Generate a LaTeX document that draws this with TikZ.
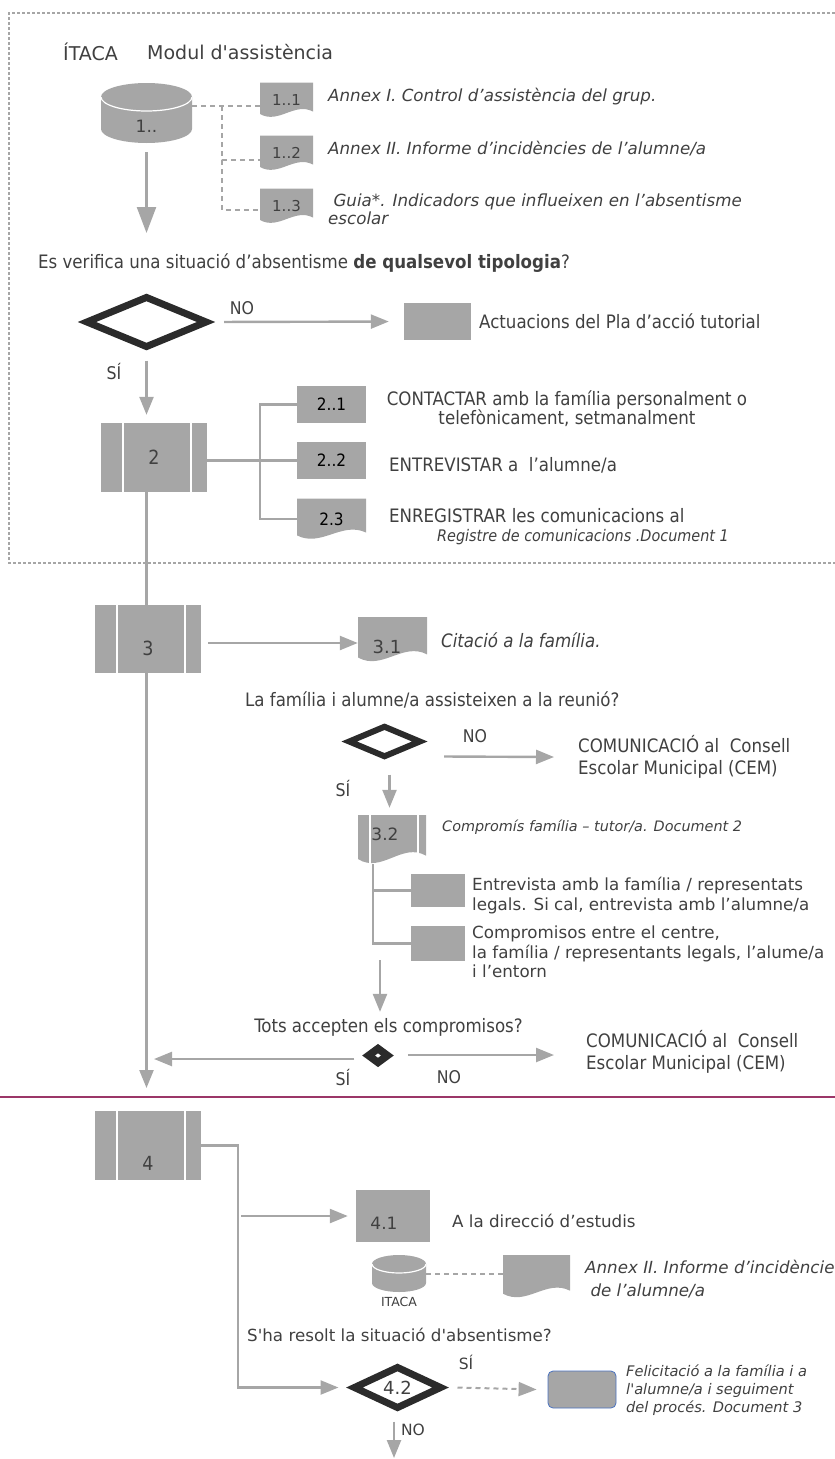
\documentclass[tikz,border=0pt]{standalone}
\usepackage{fontspec}
\setmainfont{DejaVu Sans}[Ligatures=TeXOff]
\newfontfamily\cond{DejaVu Sans Condensed}[Ligatures=TeXOff]
\usetikzlibrary{positioning,arrows.meta,shapes.geometric,calc}
\definecolor{boxgray}{HTML}{A6A6A6}
\definecolor{txtgray}{HTML}{404040}
\definecolor{darkline}{HTML}{2B2B2B}
\definecolor{sepline}{HTML}{9B3668}
\definecolor{edgeblue}{HTML}{4A72C0}
\newcommand\fs[2]{\fontsize{#1}{#2}\selectfont}
% gray page with a wavy lower edge
\newcommand\docwave{%
	\fill[boxgray] let \p1=(path picture bounding box.north west),
		\p2=(path picture bounding box.south east) in
		(\x1,\y1) -- (\x2,\y1) -- (\x2,{\y2+0.17*(\y1-\y2)})
		.. controls ({\x1+0.65*(\x2-\x1)},{\y2+0.45*(\y1-\y2)})
		and ({\x1+0.35*(\x2-\x1)},{\y2-0.2*(\y1-\y2)}) .. (\x1,{\y2+0.1*(\y1-\y2)}) -- cycle;}
% two white bars of a predefined process
\newcommand\proclines[2]{%
	\draw[white, line width=1.6pt]
		([xshift=#1]path picture bounding box.north west) -- ([xshift=#1]path picture bounding box.south west)
		([xshift=-#2]path picture bounding box.north east) -- ([xshift=-#2]path picture bounding box.south east);}
% database drum
\newcommand\dbbody[1]{%
	\fill[boxgray] let \p1=(path picture bounding box.north west),
		\p2=(path picture bounding box.south east) in
		(\x1,\y1-#1) -- (\x1,\y2+#1)
		arc[start angle=180, end angle=360, x radius={(\x2-\x1)/2}, y radius=#1]
		-- (\x2,\y1-#1)
		arc[start angle=0, end angle=180, x radius={(\x2-\x1)/2}, y radius=#1] -- cycle;
	\draw[white, line width=1.2pt] let \p1=(path picture bounding box.north west),
		\p2=(path picture bounding box.south east) in
		(\x1,\y1-#1) arc[start angle=180, end angle=360, x radius={(\x2-\x1)/2}, y radius=#1];}
\tikzset{
	>={Triangle[length=18pt,width=14pt]}
}

\begin{document}
\begin{tikzpicture}[
x = 1pt, y = -1pt,
every node/.style = {
	text = txtgray,
	inner sep = 0pt
},
conn/.style = {
	draw = boxgray,
	line width = 2.4pt
},
dashconn/.style = {
	draw = boxgray,
	line width = 2pt,
	dash pattern = on 5pt off 4pt
},
frame/.style = {
	draw = boxgray,
	line width = 1.6pt,
	dash pattern = on 3pt off 2pt
},
gbox/.style = {
	fill = boxgray
},
procbox/.style = {
	fill = boxgray,
	path picture = {\proclines{22pt}{16pt}}
},
docbox/.style = {
	path picture = {\docwave}
},
docproc/.style = {
	path picture = {\docwave\proclines{12pt}{8pt}}
},
dbase/.style = {
	path picture = {\dbbody{#1}}
},
decision/.style = {
	diamond,
	draw = darkline,
	line width = #1
},
txt/.style = {
	anchor = west,
	align = left
},
yesno/.style = {
	font = \cond\fs{17.5}{20}
}
]
\useasboundingbox (0,0) rectangle (835,1459);

% block 1: Itaca and first check
\draw[frame] (845,13) -- (9,13) -- (9,563) -- (845,563);
\node (itaca) [txt, font=\fs{19}{23}] at (63,52) {ÍTACA};
\node (modul) [txt, font=\fs{19}{23}] at (147,52) {Modul d'assistència};
\node (db1) [dbase=14pt, minimum width=91pt, minimum height=60pt,
	label={[yshift=-13pt, font=\fs{17}{20}]center:1..}] at (146.5,113) {};
\node (doc11) [docbox, minimum width=53pt, minimum height=35pt, font=\fs{15}{18}] at (286.5,100) {1..1};
\node (doc12) [docbox, minimum width=53pt, minimum height=35pt, font=\fs{15}{18}] at (286.5,153) {1..2};
\node (doc13) [docbox, minimum width=53pt, minimum height=35pt, font=\fs{15}{18}] at (286.5,206) {1..3};
\node (annex1) [txt, font=\itshape\fs{16.7}{18}] at (328,97) {Annex I. Control d’assistència del grup.};
\node (annex2) [txt, font=\itshape\fs{16.7}{18}] at (328,149) {Annex II. Informe d’incidències de l’alumne/a};
\node (guia) [txt, font=\itshape\fs{16.7}{18}] at (328,209) {\ Guia*. Indicadors que influeixen en l’absentisme\\escolar};
\draw[dashconn] ([yshift=7pt]db1.east) -- ([yshift=-6pt]doc11.west);
\draw[dashconn] ([xshift=-38pt,yshift=-6pt]doc11.west) |- ([yshift=-7pt]doc12.west);
\draw[dashconn] ([xshift=-38pt,yshift=-6pt]doc11.west) |- ([yshift=-4pt]doc13.west);
\coordinate (tip1) at (146.5,233);
\draw[conn, -{Triangle[length=26pt,width=19pt]}] ([yshift=-9pt]db1.south) -- (tip1);

\node (q1) [txt, font=\cond\fs{18.5}{20}] at (38,263) {Es verifica una situació d’absentisme \textbf{de qualsevol tipologia}?};
\node (dec1) [decision=7pt, minimum width=122pt, minimum height=52pt] at (146.5,322) {};
\node (no1) [yesno] at (242,308) {NO};
\node (act) [gbox, minimum width=67pt, minimum height=37pt] at (437.5,321.5) {};
\node (acttxt) [txt, font=\cond\fs{18.5}{20}] at (479,321) {Actuacions del Pla d’acció tutorial};
\draw[conn, ->, shorten <=13pt, shorten >=15pt] (dec1.east) -- (act.west);
\node (si1) [yesno] at (114,372) {SÍ};

\node (box2) [procbox, minimum width=106pt, minimum height=69pt, font=\cond\fs{19.5}{21}] at (154,457.5) {2};
\draw[conn, ->, shorten <=9pt, shorten >=8pt] (dec1.south) -- (dec1.south |- box2.north);
\node (b21) [gbox, minimum width=69pt, minimum height=37pt, font=\cond\fs{17}{19}, text=black] at (331.5,404.5) {2..1};
\node (b22) [gbox, minimum width=69pt, minimum height=37pt, font=\cond\fs{17}{19}, text=black] at (331.5,460.5) {2..2};
\node (b23) [docbox, minimum width=69pt, minimum height=41pt, font=\cond\fs{17}{19}, text=black] at (331.5,519) {2.3};
\draw[conn] (box2.east |- b22.west) -- (b22.west);
\draw[conn] (b21.west) -- ++(-37,0) |- (b23.west);
\node (contact) [align=center, font=\cond\fs{18.5}{19}] at (567,409) {CONTACTAR amb la família personalment o\\telefònicament, setmanalment};
\node (entrev) [txt, font=\cond\fs{18.5}{20}] at (389,465) {ENTREVISTAR a~ l’alumne/a};
\node (enreg) [txt, font=\cond\fs{18.5}{20}] at (389,516) {ENREGISTRAR les comunicacions al};
\node (registre) [txt, font=\cond\itshape\fs{16}{18}] at (437,537) {Registre de comunicacions .Document 1};

% block 2: meeting with the family
\node (box3) [procbox, minimum width=106pt, minimum height=68pt,
	label={[yshift=-9pt, font=\cond\fs{19.5}{21}]center:3}] at (148,639) {};
\draw[conn] (dec1 |- box2.south) -- (dec1 |- box3.north);
\coordinate (tip2) at (146.5,1088);
\draw[conn, ->] (dec1 |- box3.south) -- (tip2);
\node (doc31) [docbox, minimum width=69pt, minimum height=45pt,
	label={[xshift=-5.5pt, yshift=-7.5pt, font=\fs{18}{21}]center:3.1}] at (392.5,639.5) {};
\draw[conn, ->] ([xshift=7pt, yshift=-4pt]box3.east) -- ([yshift=-3.5pt]doc31.west);
\node (citacio) [txt, font=\cond\itshape\fs{18.5}{20}] at (441,640) {Citació a la família.};
\node (q2) [txt, font=\cond\fs{18.5}{20}] at (245,700) {La família i alumne/a assisteixen a la reunió?};
\node (dec2) [decision=6pt, minimum width=73pt, minimum height=32pt] at (384.5,741.5) {};
\node (no2) [yesno] at (475,736) {NO};
\node (com1) [txt, font=\cond\fs{18.5}{22}] at (578,757) {COMUNICACIÓ al~ Consell\\Escolar Municipal (CEM)};
\draw[conn, ->] ([xshift=20pt, yshift=-15pt]dec2.east) -- ([xshift=-24pt]com1.west);
\node (si2) [yesno] at (343,788) {SÍ};
\node (doc32) [docproc, minimum width=68pt, minimum height=49pt,
	label={[xshift=-7pt, yshift=5pt, font=\fs{17}{20}]center:3.2}] at (392,839.5) {};
\draw[conn, ->, shorten >=7pt] ([xshift=5pt, yshift=-14pt]dec2.south) -- ([xshift=5pt]dec2.south |- doc32.north);
\node (compromis) [txt, font=\itshape\fs{14.4}{16}] at (442,827) {Compromís família – tutor/a. Document 2};
\node (bA) [gbox, minimum width=54pt, minimum height=33pt] at (438,890.5) {};
\node (bB) [gbox, minimum width=54pt, minimum height=35pt] at (438,943.5) {};
\draw[conn] ([xshift=-19pt]doc32.south) |- (bA.west);
\draw[conn] ([xshift=-19pt]doc32.south) |- (bB.west);
\node (txtA) [txt, font=\fs{16.7}{20}] at (472,896) {Entrevista amb la família / representats\\legals. Si cal, entrevista amb l’alumne/a};
\node (txtB) [txt, font=\fs{16.7}{19.5}] at (472,952) {Compromisos entre el centre,\\la família / representants legals, l’alume/a\\i l’entorn};
\node (q3) [font=\cond\fs{18.5}{20}] at (388.5,1027) {Tots accepten els compromisos?};
\coordinate (a3s) at (380,960);
\draw[conn, ->, shorten >=6pt] (a3s) -- (a3s |- q3.north);
\node (dec3) [decision=7.5pt, minimum width=22pt, minimum height=17pt] at (378,1055.5) {};
\coordinate (yes3) at (154,1059);
\coordinate (no3end) at (554,1055);
\draw[conn, ->] ([xshift=-9pt, yshift=-3.5pt]dec3.west) -- (yes3);
\draw[conn, ->] ([xshift=15pt, yshift=0.5pt]dec3.east) -- (no3end);
\node (com2) [txt, font=\cond\fs{18.5}{22}] at (586,1051.5) {COMUNICACIÓ al~ Consell\\Escolar Municipal (CEM)};
\node (si3) [yesno] at (343,1077) {SÍ};
\node (no3) [yesno] at (449,1077) {NO};

% block 3: head of studies
\draw[sepline, line width=2pt] (0,1097) -- (835,1097);
\node (box4) [procbox, minimum width=106pt, minimum height=69pt,
	label={[yshift=-18pt, font=\cond\fs{19.5}{21}]center:4}] at (148,1145.5) {};
\node (b41) [gbox, minimum width=74pt, minimum height=52pt,
	label={[xshift=-9pt, yshift=-7pt, font=\fs{17}{20}]center:4.1}] at (393,1216) {};
\node (direcc) [txt, font=\fs{16.7}{19}] at (452,1221) {A la direcció d’estudis};
\node (db2) [dbase=9pt, minimum width=54pt, minimum height=37pt] at (399,1273.5) {};
\node (itaca2) [below=5pt of db2, font=\fs{12.5}{15}] {ITACA};
\node (doc4b) [docbox, minimum width=67pt, minimum height=43pt] at (536.5,1276.5) {};
\draw[dashconn] (db2.east) -- (db2.east -| doc4b.west);
\node (annex2b) [txt, font=\itshape\fs{16.7}{23}] at (585,1279.5) {Annex II. Informe d’incidèncie\\\ de l’alumne/a};
\node (q4) [txt, font=\fs{16.7}{19}] at (247,1335) {S'ha resolt la situació d'absentisme?};
\node (dec4) [decision=7pt, minimum width=89pt, minimum height=43pt, font=\fs{18}{21}] at (397.5,1387.5) {4.2};
\draw[conn, ->] (box4.east) -- ++(37,0) coordinate (j4) |- ([xshift=-11pt]dec4.west);
\draw[conn, ->, shorten <=3pt, shorten >=8pt] (j4 |- b41.west) -- (b41.west);
\node (si4) [font=\fs{15.5}{18}] at (466,1362) {SÍ};
\node (fel) [gbox, draw=edgeblue, line width=0.8pt, rounded corners=5pt, minimum width=68pt, minimum height=37pt] at (582,1389.5) {};
\draw[dashconn, ->] ([xshift=12pt]dec4.east) -- ([xshift=-11pt]fel.west);
\node (feltxt) [txt, font=\itshape\fs{14.6}{18}] at (626,1390) {Felicitació a la família i a\\l'alumne/a i seguiment\\del procés. Document 3};
\node (no4) [font=\fs{15.5}{18}] at (413,1430) {NO};
\coordinate (endtip) at (394,1458);
\draw[conn, ->] ([xshift=-3.5pt, yshift=-9pt]dec4.south) -- (endtip);

\end{tikzpicture}
\end{document}
